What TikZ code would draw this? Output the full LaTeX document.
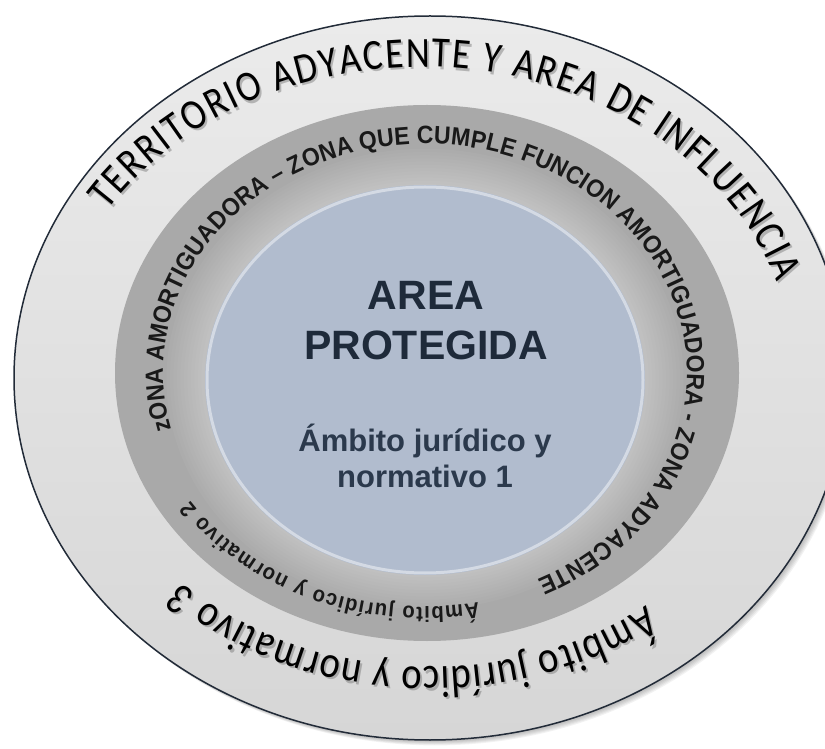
\documentclass[tikz,border=0pt]{standalone}
\usepackage{fontspec}
\setmainfont{Liberation Sans}
\newfontfamily\calfont[FakeStretch=0.86]{Carlito}
\newfontfamily\arialfont{Liberation Sans}
\newfontfamily\arialnarrow[FakeStretch=0.92]{Liberation Sans}
\usetikzlibrary{decorations.text}
\definecolor{outtop}{HTML}{EBEBEB}
\definecolor{outbot}{HTML}{D6D6D6}
\definecolor{outline}{HTML}{222B38}
\definecolor{midgray}{HTML}{A9A9A9}
\definecolor{innerblue}{HTML}{B1BCCE}
\definecolor{navy}{HTML}{1E2A3A}
\definecolor{navytwo}{HTML}{2B394C}
\tikzset{
  ringtext/.style={decorate, decoration={text along path, text align={fit to path}, text color=#1}},
  centretitle/.style={font=\arialfont\bfseries\fontsize{41}{44}\selectfont, text=navy, anchor=base, inner sep=0pt},
  centresub/.style={font=\arialfont\bfseries\fontsize{31}{34}\selectfont, text=navytwo, anchor=base, inner sep=0pt}
}
\begin{document}
\begin{tikzpicture}[x=1pt,y=1pt]
\useasboundingbox (0,0) rectangle (825,748);
\clip (0,0) rectangle (825,748);
% soft shadow of the outer disc
\foreach \k in {1,...,6}
  \fill[black,opacity=0.05] (430+\k*0.9,370-\k*0.9) ellipse [x radius=416, y radius=362];
% outer disc
\fill[top color=outtop, bottom color=outbot] (430,370) ellipse [x radius=416, y radius=362];
\draw[outline, line width=1.5] (430,370) ellipse [x radius=416, y radius=362];
% middle disc
\fill[midgray] (427,375) ellipse [x radius=312, y radius=268];
\foreach \k in {0,...,11}
  \fill[white,opacity=0.035] (425,369) ellipse [x radius=220+\k*3.5, y radius=195+\k*3.2];
% inner disc
\fill[innerblue] (425,368) ellipse [x radius=220, y radius=195];
\draw[white, opacity=0.45, line width=3] (425,368) ellipse [x radius=218, y radius=193];

% outer ring texts (shadow copies first)
\begin{scope}[shift={(2,-2.4)}, opacity=0.45]
\path[ringtext=black!55, decoration={text={|\calfont\fontsize{43}{45}\selectfont|TERRITORIO ADYACENTE Y AREA DE INFLUENCIA}}]
  (422,370) ++(147.5:373 and 311) arc [start angle=147.5, end angle=18, x radius=373, y radius=311];
\path[ringtext=black!55, decoration={text={|\calfont\fontsize{45}{47}\selectfont|Ámbito jurídico y normativo 3}}]
  (430,370) ++(308:352 and 289) arc [start angle=308, end angle=225, x radius=352, y radius=289];
\end{scope}
\path[ringtext=black, decoration={text={|\calfont\fontsize{43}{45}\selectfont|TERRITORIO ADYACENTE Y AREA DE INFLUENCIA}}]
  (422,370) ++(147.5:373 and 311) arc [start angle=147.5, end angle=18, x radius=373, y radius=311];
\path[ringtext=black, decoration={text={|\calfont\fontsize{45}{47}\selectfont|Ámbito jurídico y normativo 3}}]
  (430,370) ++(308:352 and 289) arc [start angle=308, end angle=225, x radius=352, y radius=289];

% middle ring texts
\path[ringtext=black!90, decoration={text={|\arialnarrow\bfseries\fontsize{25}{27}\selectfont|zONA AMORTIGUADORA – ZONA QUE CUMPLE FUNCION AMORTIGUADORA - ZONA ADYACENTE}}]
  (425,375) ++(194.4:262 and 229) arc [start angle=194.4, end angle=-64.6, x radius=262, y radius=229];
\path[ringtext=black!90, decoration={text={|\arialnarrow\bfseries\fontsize{22}{24}\selectfont|Ámbito jurídico y normativo 2}}]
  (425,375) ++(281:280 and 234) arc [start angle=281, end angle=213, x radius=280, y radius=234];

% centre texts
\node[centretitle] (t1) at (426,438) {AREA};
\node[centretitle] (t2) at (426,388) {PROTEGIDA};
\node[centresub] (s1) at (425,296) {Ámbito jurídico y};
\node[centresub] (s2) at (425,261) {normativo 1};
\end{tikzpicture}
\end{document}
